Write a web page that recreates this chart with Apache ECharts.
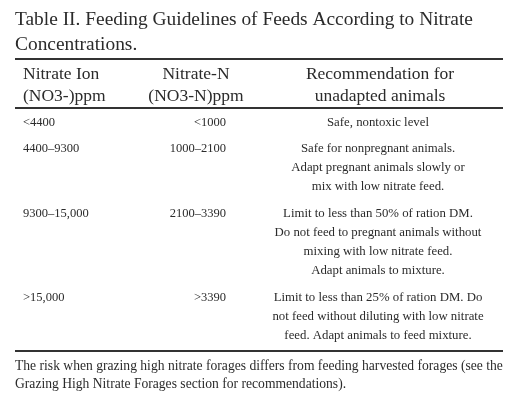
<!DOCTYPE html>
<html><head><meta charset="utf-8">
<script src="https://cdn.jsdelivr.net/npm/echarts@6/dist/echarts.min.js"></script>
<style>html,body{margin:0;padding:0;background:#fff}#c{width:518px;height:400px}</style>
</head><body><div id="c"></div>
<script>
const titleLines = ["Table II. Feeding Guidelines of Feeds According to Nitrate", "Concentrations."];
const headers = [["Nitrate Ion", "(NO3-)ppm"], ["Nitrate-N", "(NO3-N)ppm"], ["Recommendation for", "unadapted animals"]];
const nitrateIon = ["<4400", "4400–9300", "9300–15,000", ">15,000"];
const nitrateN = ["<1000", "1000–2100", "2100–3390", ">3390"];
const recommendations = [
  ["Safe, nontoxic level"],
  ["Safe for nonpregnant animals.", "Adapt pregnant animals slowly or", "mix with low nitrate feed."],
  ["Limit to less than 50% of ration DM.", "Do not feed to pregnant animals without", "mixing with low nitrate feed.", "Adapt animals to mixture."],
  ["Limit to less than 25% of ration DM. Do", "not feed without diluting with low nitrate", "feed. Adapt animals to feed mixture."]
];
const footnote = ["The risk when grazing high nitrate forages differs from feeding harvested forages (see the", "Grazing High Nitrate Forages section for recommendations)."];

const FONT = '"Liberation Serif","DejaVu Serif",serif';
const C = '#2b2b2b';
const g = [];
function txt(x, y, s, size, align) {
  g.push({type:'text', x, y, style:{text:s, font:size+'px '+FONT, fill:C, textAlign:align||'left', textVerticalAlign:'middle'}});
}
function hline(y, w) {
  g.push({type:'line', shape:{x1:15, y1:y, x2:503, y2:y}, style:{stroke:'#333', lineWidth:w}});
}
titleLines.forEach((t,i)=>txt(15, 20+i*25, t, 19.4));
hline(59, 2);
const hx = [[23,'left'],[196,'center'],[380,'center']];
headers.forEach((h,c)=>h.forEach((t,i)=>txt(hx[c][0], 74+i*22, t, 17.5, hx[c][1])));
hline(108, 2);
const rowTops = [123, 149, 214, 298];
const lh = 19;
nitrateIon.forEach((v,r)=>{
  txt(23, rowTops[r], v, 12.5, 'left');
  txt(226, rowTops[r], nitrateN[r], 12.5, 'right');
  recommendations[r].forEach((t,i)=>txt(378, rowTops[r]+i*lh, t, 12.8, 'center'));
});
hline(351, 2);
footnote.forEach((t,i)=>txt(15, 366+i*18, t, 13.6, 'left'));

const chart = echarts.init(document.getElementById('c'));
chart.setOption({backgroundColor:'#fff', graphic:{elements:g}});
</script></body></html>
